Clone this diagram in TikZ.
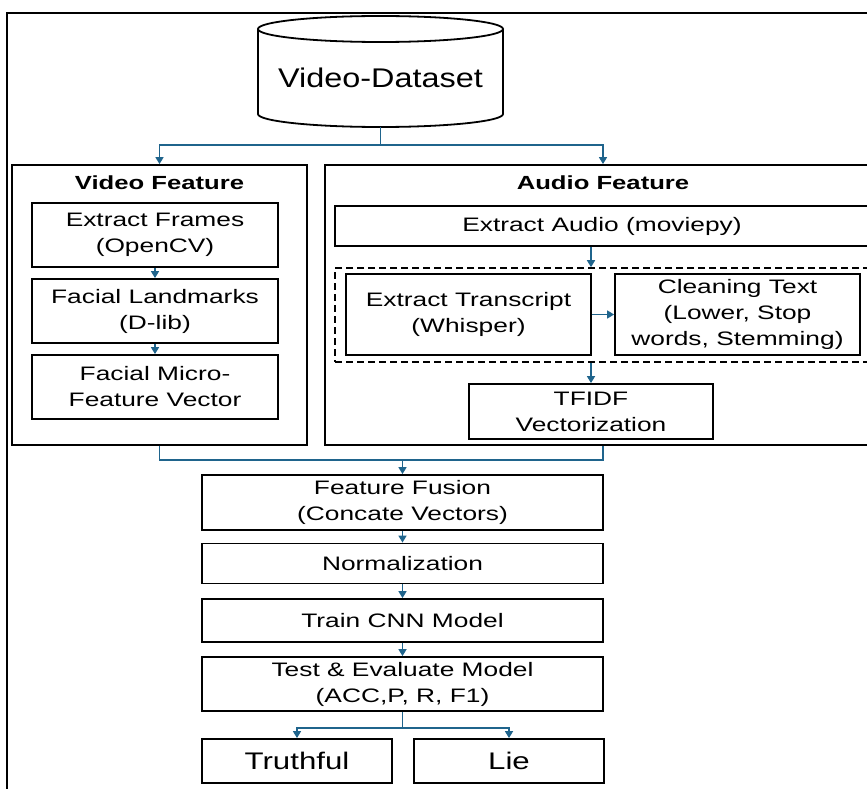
\documentclass[tikz,border=0pt]{standalone}
\usepackage{fontspec}
\setmainfont{Liberation Sans}[FakeStretch=1.35]
\newfontfamily\dbfont{Liberation Sans}[FakeStretch=1.2]
\newfontfamily\outfont{Liberation Sans}[FakeStretch=1.3]
\usetikzlibrary{arrows.meta}
\definecolor{flowblue}{RGB}{31,100,140}

\begin{document}
\begin{tikzpicture}[x=1pt,y=-1pt,
  box/.style={draw, line width=1.8pt, inner sep=0pt, align=center,
    font=\fontsize{19.5}{26}\selectfont},
  outcome/.style={box, minimum width=190pt, minimum height=44pt,
    font=\outfont\fontsize{24}{28}\selectfont},
  group/.style={draw, line width=1.8pt, inner sep=0pt},
  title/.style={inner sep=0pt, font=\fontsize{19}{24}\selectfont\bfseries},
  dashbox/.style={draw, line width=1.6pt, dash pattern=on 7pt off 4pt, inner sep=0pt},
  flow/.style={draw=flowblue, line width=1.6pt, -{Triangle[length=7pt,width=8pt]}},
  link/.style={draw=flowblue, line width=1.6pt},
]
\useasboundingbox (0,0) rectangle (867,789);
\clip (0,0) rectangle (867,789);

% outer frame (runs past the right and bottom edges)
\draw[line width=1.6pt] (7,13) rectangle (900,830);

% dataset cylinder
\node[inner sep=0pt, minimum width=245pt, minimum height=111pt] (db) at (380.5,71.5) {};
\draw[line width=1.8pt, fill=white] (258,29) -- (258,114)
  arc[start angle=180, end angle=0, x radius=122.5, y radius=13] -- (503,29);
\draw[line width=1.8pt] (380.5,29) ellipse [x radius=122.5, y radius=13];
\node[inner sep=0pt, font=\dbfont\fontsize{27}{32}\selectfont] (dbl) at (380.5,78) {Video-Dataset};

% feature groups
\node[group, minimum width=295pt, minimum height=280pt] (vid) at (159.5,305) {};
\node[group, minimum width=556pt, minimum height=280pt] (aud) at (603,305) {};
\node[title] (vidt) at (159.5,183) {Video Feature};
\node[title] (audt) at (603,183) {Audio Feature};

% video branch
\node[box, minimum width=246pt, minimum height=64pt] (ef) at (155,235) {Extract Frames\\(OpenCV)};
\node[box, minimum width=246pt, minimum height=64pt] (fl) at (155,311) {Facial Landmarks\\(D-lib)};
\node[box, minimum width=246pt, minimum height=64pt] (fm) at (155,387) {Facial Micro-\\Feature Vector};

% audio branch
\node[box, minimum width=535pt, minimum height=40pt] (ea) at (602.5,226) {};
\node[inner sep=0pt, font=\fontsize{19.5}{26}\selectfont] (eal) at (602,226) {Extract Audio (moviepy)};
\node[dashbox, minimum width=545pt, minimum height=94pt] (dsh) at (607.5,315) {};
\node[box, minimum width=245pt, minimum height=81pt] (tr) at (468.5,314.5) {Extract Transcript\\(Whisper)};
\node[box, minimum width=245pt, minimum height=81pt] (ct) at (737.5,314.5) {Cleaning Text\\(Lower, Stop\\words, Stemming)};
\node[box, minimum width=244pt, minimum height=55pt] (tf) at (591,411.5) {TFIDF\\Vectorization};

% fusion and model stages
\node[box, minimum width=401pt, minimum height=55pt] (ff) at (402.5,502.5) {Feature Fusion\\(Concate Vectors)};
\node[box, minimum width=401pt, minimum height=40pt] (nm) at (402.5,563.5) {Normalization};
\node[box, minimum width=401pt, minimum height=43pt] (tc) at (402.5,620.5) {Train CNN Model};
\node[box, minimum width=401pt, minimum height=54pt] (te) at (402.5,684) {Test \& Evaluate Model\\(ACC,P, R, F1)};
\node[outcome] (tru) at (297,761) {Truthful};
\node[outcome] (lie) at (509,761) {Lie};

% connectors
\coordinate (split) at (380.5,145);
\draw[link] (db.south) -- (split);
\draw[flow] (split) -| (vid.north);
\draw[flow] (split) -| (aud.north);

\draw[flow] (ef.south) -- (fl.north);
\draw[flow] (fl.south) -- (fm.north);

\draw[flow] (ea.south -| tf.north) -- (dsh.north -| tf.north);
\draw[flow] (tr.east) -- (ct.west);
\draw[flow] (dsh.south -| tf.north) -- (tf.north);

\coordinate (merge) at (402.5,460);
\draw[link] (vid.south) |- (merge) -| (aud.south);
\draw[flow] (merge) -- (ff.north);

\draw[flow] (ff.south) -- (nm.north);
\draw[flow] (nm.south) -- (tc.north);
\draw[flow] (tc.south) -- (te.north);

\coordinate (branch) at (402.5,728);
\draw[link] (te.south) -- (branch);
\draw[flow] (branch) -| (tru.north);
\draw[flow] (branch) -| (lie.north);
\end{tikzpicture}
\end{document}
